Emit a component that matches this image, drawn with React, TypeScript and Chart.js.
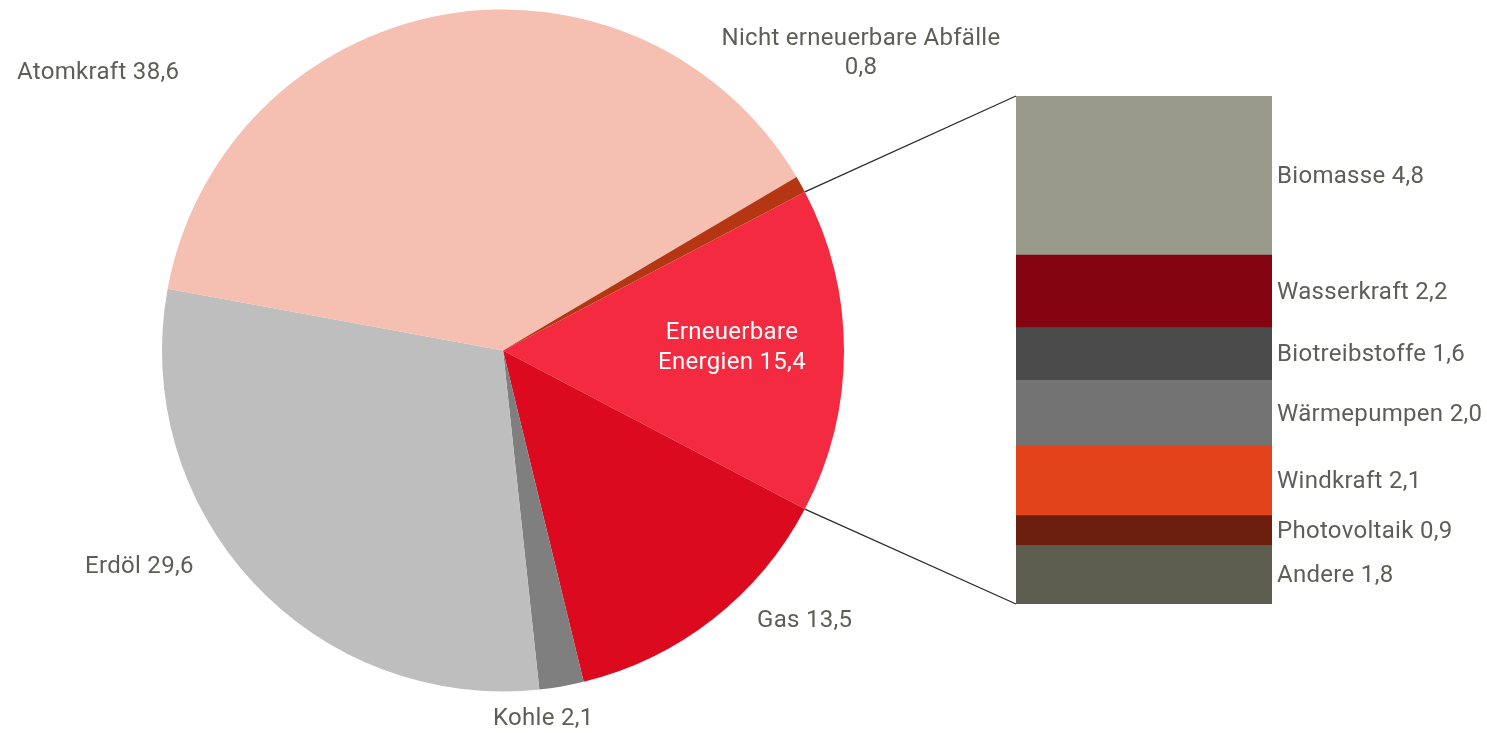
import React, { useEffect, useRef } from "react";
import { Chart, registerables } from "chart.js";

Chart.register(...registerables);

// Primary energy mix (pie)
const pieLabels = ["Erneuerbare Energien", "Gas", "Kohle", "Erdöl", "Atomkraft", "Nicht erneuerbare Abfälle"];
const pieValues = [15.4, 13.5, 2.1, 29.6, 38.6, 0.8];
const pieColors = ["#F32A40", "#DC0A1E", "#7F7F7F", "#BEBEBE", "#F5BFB1", "#B53612"];

// Breakdown of renewables (stacked bar)
const renewLabels = ["Biomasse", "Wasserkraft", "Biotreibstoffe", "Wärmepumpen", "Windkraft", "Photovoltaik", "Andere"];
const renewValues = [4.8, 2.2, 1.6, 2.0, 2.1, 0.9, 1.8];
const renewColors = ["#9A9A8A", "#850412", "#4B4B4B", "#737373", "#E2431A", "#6B1D0E", "#5E5E50"];

const FONT = "Roboto, 'Open Sans', sans-serif";
const TEXT = "#5E5E58";
const fmt = (v: number) => v.toFixed(1).replace(".", ",");

const setFont = (ctx: any) => {
  ctx.font = `24px ${FONT}`;
  try {
    ctx.letterSpacing = "0.3px";
  } catch (e) {
    /* ignore */
  }
};

export default function App() {
  const pieRef = useRef<HTMLCanvasElement | null>(null);
  const barRef = useRef<HTMLCanvasElement | null>(null);

  useEffect(() => {
    if (!pieRef.current || !barRef.current) return;
    const total = pieValues.reduce((a, b) => a + b, 0);
    const rotation = 90 - (pieValues[0] / total) * 180;

    const pieLabelPlugin = {
      id: "pieLabels",
      afterDraw(chart: any) {
        const ctx = chart.ctx;
        const arc = chart.getDatasetMeta(0).data[0];
        const cx = arc.x;
        const cy = arc.y;
        ctx.save();
        setFont(ctx);
        ctx.textBaseline = "middle";
        const put = (t: string, x: number, y: number, align: CanvasTextAlign, color = TEXT) => {
          ctx.fillStyle = color;
          ctx.textAlign = align;
          ctx.fillText(t, x, y);
        };
        put(`${pieLabels[4]} ${fmt(pieValues[4])}`, cx - 486, cy - 278, "left");
        put(pieLabels[5], cx + 358, cy - 312, "center");
        put(fmt(pieValues[5]), cx + 358, cy - 283, "center");
        put("Erneuerbare", cx + 229, cy - 18, "center", "#FFFFFF");
        put(`Energien ${fmt(pieValues[0])}`, cx + 229, cy + 12, "center", "#FFFFFF");
        put(`${pieLabels[1]} ${fmt(pieValues[1])}`, cx + 254, cy + 270, "left");
        put(`${pieLabels[2]} ${fmt(pieValues[2])}`, cx - 10, cy + 368, "left");
        put(`${pieLabels[3]} ${fmt(pieValues[3])}`, cx - 418, cy + 216, "left");
        ctx.restore();
      },
    };

    const pie = new Chart(pieRef.current, {
      type: "pie",
      data: {
        labels: pieLabels,
        datasets: [
          {
            data: pieValues,
            backgroundColor: pieColors,
            borderWidth: 0,
            hoverOffset: 0,
            offset: 0,
          },
        ],
      },
      options: {
        responsive: false,
        animation: false,
        events: [],
        rotation,
        layout: { padding: { left: 162, top: 9.5, right: 643, bottom: 41.5 } },
        plugins: { legend: { display: false }, tooltip: { enabled: false } },
      },
      plugins: [pieLabelPlugin],
    });

    const barDecor = {
      id: "barDecor",
      afterDraw(chart: any) {
        const ctx = chart.ctx;
        const metas = renewValues.map((_, i) => chart.getDatasetMeta(i).data[0]);
        const first = metas[0];
        const last = metas[metas.length - 1];
        const left = first.x - first.width / 2;
        const right = first.x + first.width / 2;
        const top = Math.min(first.y, first.base);
        const bottom = Math.max(last.y, last.base);

        // connector lines from the renewable slice
        const arc = pie.getDatasetMeta(0).data[0] as any;
        const r = arc.outerRadius;
        const sx = arc.x + r * Math.cos(arc.startAngle);
        const sy = arc.y + r * Math.sin(arc.startAngle);
        const ex = arc.x + r * Math.cos(arc.endAngle);
        const ey = arc.y + r * Math.sin(arc.endAngle);
        ctx.save();
        ctx.strokeStyle = "#2B2B2B";
        ctx.lineWidth = 1.3;
        ctx.beginPath();
        ctx.moveTo(sx, sy);
        ctx.lineTo(left, top);
        ctx.moveTo(ex, ey);
        ctx.lineTo(left, bottom);
        ctx.stroke();

        setFont(ctx);
        ctx.fillStyle = TEXT;
        ctx.textAlign = "left";
        ctx.textBaseline = "middle";
        metas.forEach((m: any, i: number) => {
          const mid = (m.y + m.base) / 2 + 2;
          ctx.fillText(`${renewLabels[i]} ${fmt(renewValues[i])}`, right + 5, mid);
        });
        ctx.restore();
      },
    };

    const renewTotal = renewValues.reduce((a, b) => a + b, 0);
    const bar = new Chart(barRef.current, {
      type: "bar",
      data: {
        labels: ["Erneuerbare Energien"],
        datasets: renewValues.map((v, i) => ({
          label: renewLabels[i],
          data: [v],
          backgroundColor: renewColors[i],
          borderWidth: 0,
          barPercentage: 1,
          categoryPercentage: 1,
        })),
      },
      options: {
        responsive: false,
        animation: false,
        events: [],
        layout: { padding: { left: 1016, top: 96, right: 215, bottom: 129 } },
        scales: {
          x: { stacked: true, display: false },
          y: { stacked: true, display: false, reverse: true, min: 0, max: renewTotal },
        },
        plugins: { legend: { display: false }, tooltip: { enabled: false } },
      },
      plugins: [barDecor],
    });

    return () => {
      bar.destroy();
      pie.destroy();
    };
  }, []);

  return (
    <div style={{ position: "fixed", left: 0, top: 0, width: 1487, height: 733, background: "#FFFFFF" }}>
      <canvas ref={pieRef} width={1487} height={733} style={{ position: "absolute", left: 0, top: 0 }} />
      <canvas ref={barRef} width={1487} height={733} style={{ position: "absolute", left: 0, top: 0 }} />
    </div>
  );
}
